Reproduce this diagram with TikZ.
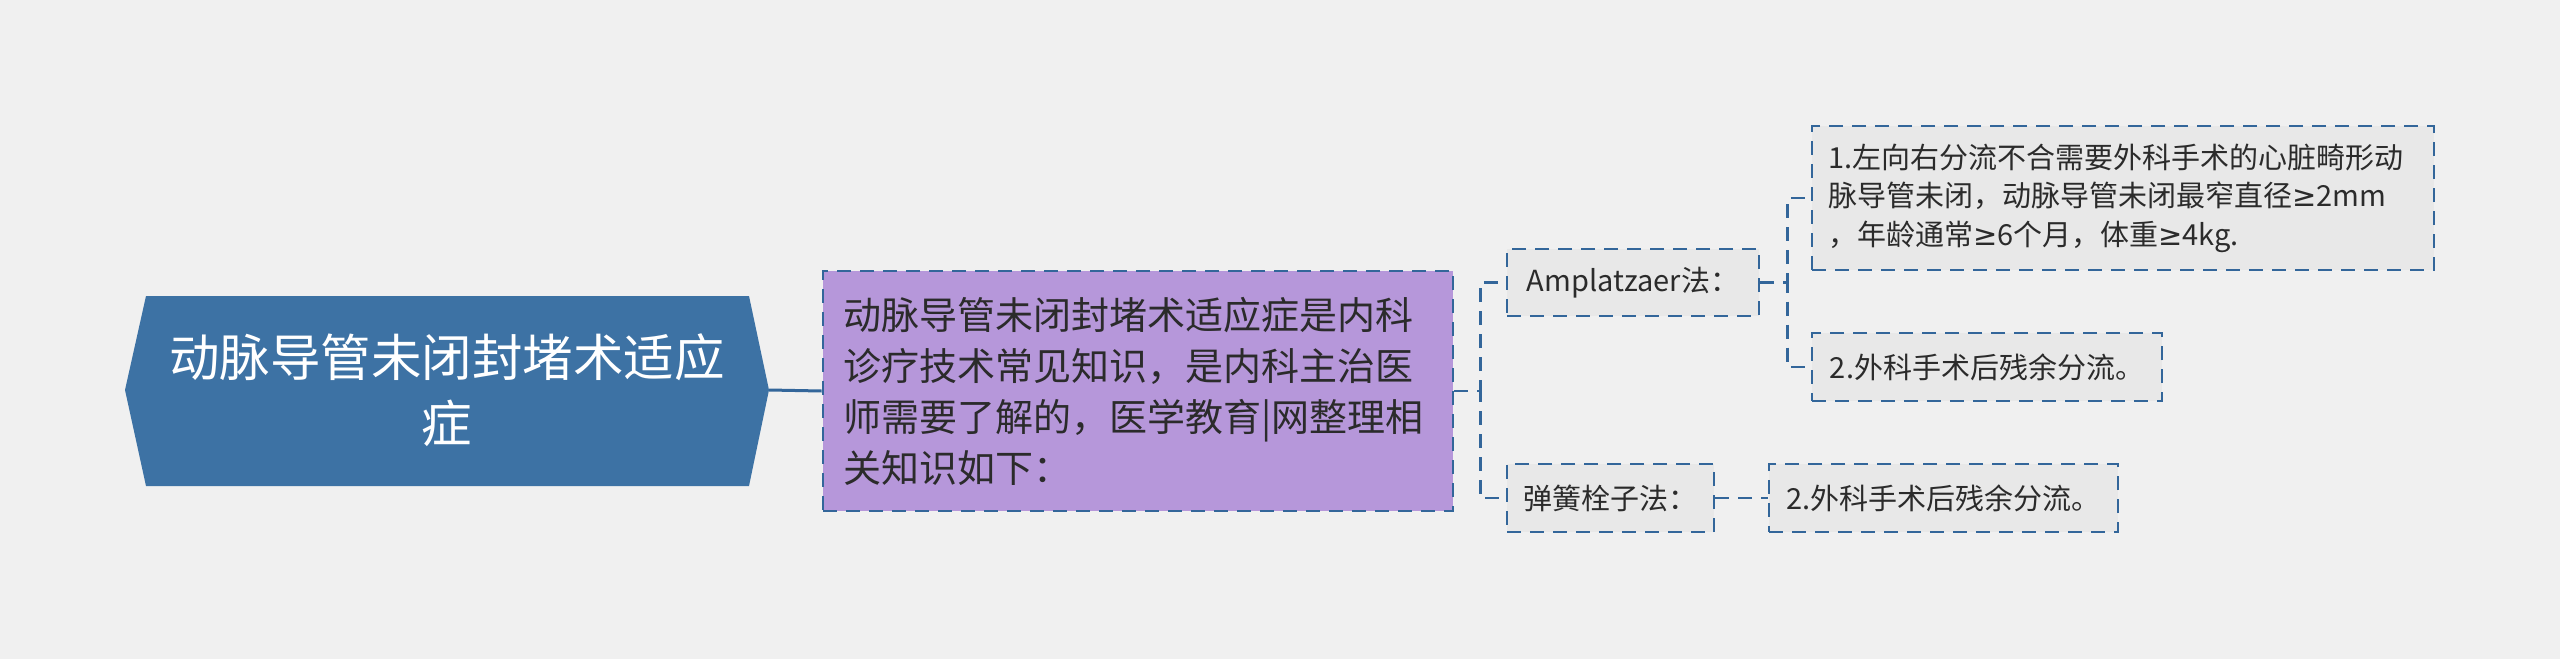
\documentclass[tikz,border=0pt]{standalone}
\usepackage{fontspec}
\newfontfamily\cjk{Noto Sans CJK SC}
\newfontfamily\sym{DejaVu Sans}
\definecolor{bgcol}{HTML}{F0F0F0}
\definecolor{rootblue}{HTML}{3D72A4}
\definecolor{lavender}{HTML}{B697DA}
\definecolor{leafgray}{HTML}{E8E8E8}
\definecolor{edgeblue}{HTML}{33669A}
\definecolor{textgray}{HTML}{2B2B2B}

\begin{document}
\begin{tikzpicture}[x=0.5pt, y=-0.5pt,
    dashbox/.style={draw=edgeblue, line width=1.4pt, dash pattern=on 7pt off 4.5pt, text=textgray, inner ysep=0pt},
    leaf/.style={dashbox, fill=leafgray, inner xsep=8pt, font=\cjk\fontsize{14.5}{19.3}\selectfont},
    link/.style={draw=edgeblue, line width=1.4pt, dash pattern=on 7pt off 4.5pt}]

    % Background and bounding box
    \fill[bgcol] (0,0) rectangle (2560,659);

    % Root hexagon
    \fill[rootblue] (125,390) -- (146,296) -- (749,296) -- (769,390) -- (749,486) -- (146,486) -- cycle;
    \coordinate (roottip) at (769,390);
    \node[text=white, align=center, font=\cjk\fontsize{25.25}{33}\selectfont] (root) at (447,390)
         {动脉导管未闭封堵术适应\\症};

    % Middle node
    \node[dashbox, fill=lavender, text width=295pt, inner xsep=10pt, minimum height=120pt, align=left,
          font=\cjk\fontsize{19}{25.5}\selectfont] (mid) at (1138,391)
         {动脉导管未闭封堵术适应症是内科\\诊疗技术常见知识，是内科主治医\\师需要了解的，医学教育|网整理相\\关知识如下：};

    % Methods
    \node[leaf, minimum width=126pt, minimum height=33.5pt] (amp) at (1633,282.5) {Amplatzaer法：};
    \node[leaf, minimum width=103.5pt, minimum height=34pt] (coil) at (1610.5,498) {弹簧栓子法：};

    % Indications
    \node[leaf, text width=295pt, minimum height=72pt, align=left] (leafa) at (2123,198)
         {1.左向右分流不合需要外科手术的心脏畸形动\\脉导管未闭，动脉导管未闭最窄直径{\sym ≥}2mm\\，年龄通常{\sym ≥}6个月，体重{\sym ≥}4kg.};
    \node[leaf, minimum width=175pt, minimum height=34pt] (leafb) at (1987,367) {2.外科手术后残余分流。};
    \node[leaf, minimum width=174.5pt, minimum height=34pt] (leafc) at (1943.5,498) {2.外科手术后残余分流。};

    % Connectors
    \draw[edgeblue, line width=1.5pt] (roottip) -- (mid.west);
    \draw[link] (mid.east) -- ++(26,0) |- (amp.west);
    \draw[link] (mid.east) -- ++(26,0) |- (coil.west);
    \draw[link] (amp.east) -- ++(27,0) |- (leafa.west);
    \draw[link] (amp.east) -- ++(27,0) |- (leafb.west);
    \draw[link] (coil.east) -- (leafc.west);
\end{tikzpicture}
\end{document}
